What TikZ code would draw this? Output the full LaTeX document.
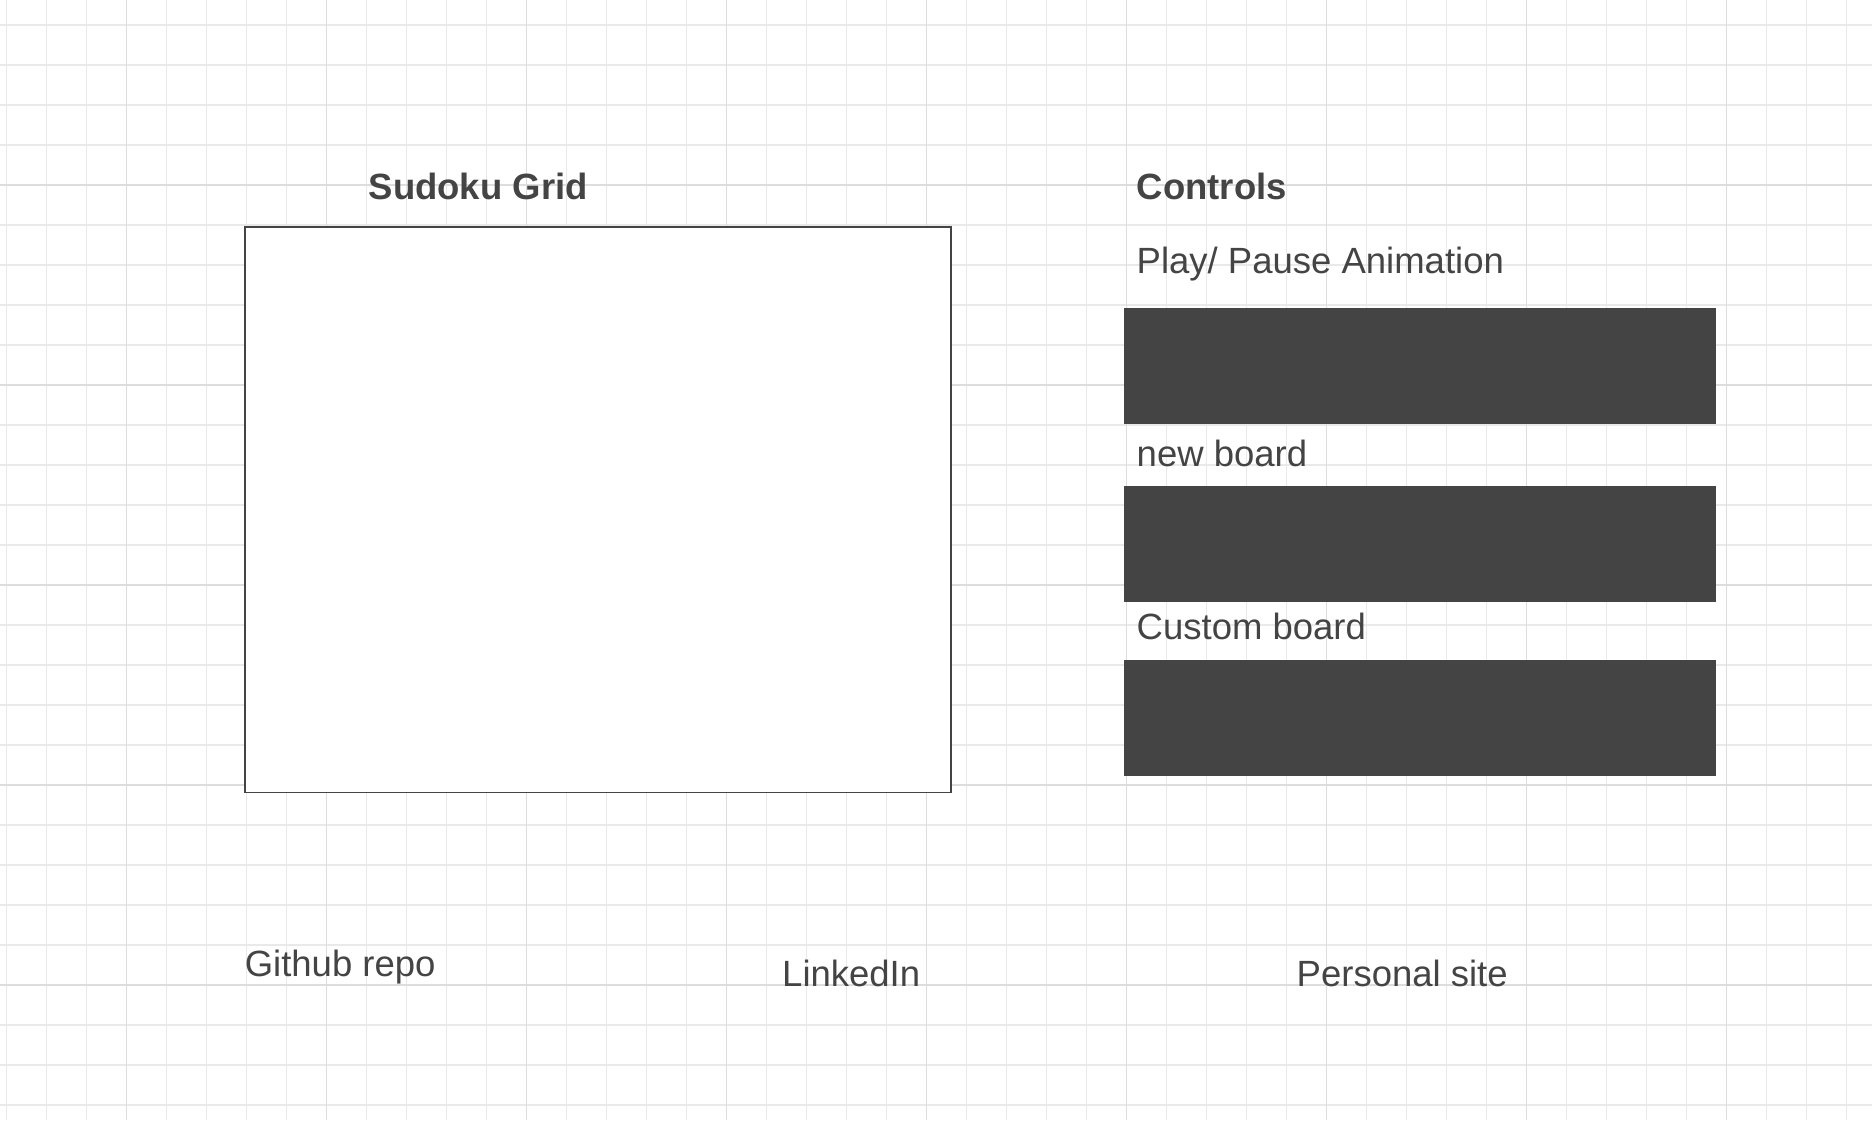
\documentclass[tikz,border=0pt]{standalone}
\usepackage{fontspec}
\setmainfont{Liberation Sans}
\definecolor{ink}{HTML}{444444}
\definecolor{gridminor}{HTML}{E9E9E9}
\definecolor{gridmajor}{HTML}{DDDDDD}
\tikzset{
  minorline/.style={draw=gridminor, line width=1.2pt},
  majorline/.style={draw=gridmajor, line width=1.4pt},
  gridbox/.style={draw=ink, fill=white, line width=1.7pt, minimum width=706pt, minimum height=565.8pt, inner sep=0pt, outer sep=0pt},
  darkbar/.style={fill=ink, draw=none, minimum width=592pt, minimum height=116pt, inner sep=0pt, outer sep=0pt},
  label/.style={anchor=base west, inner sep=0pt, text=ink, font=\fontsize{36.5}{44}\selectfont},
  title/.style={label, font=\fontsize{36.5}{44}\selectfont\bfseries}
}
\begin{document}
\begin{tikzpicture}[x=1pt,y=-1pt]
\useasboundingbox (0,0) rectangle (1872,1120);
\fill[white] (0,0) rectangle (1872,1120);
% grid
\foreach \i in {0,...,46} \draw[minorline] ({6.7+40*\i},0) -- ({6.7+40*\i},1120);
\foreach \j in {0,...,27} \draw[minorline] (0,{25+40*\j}) -- (1872,{25+40*\j});
\foreach \i in {0,...,8} \draw[majorline] ({126.7+200*\i},0) -- ({126.7+200*\i},1120);
\foreach \j in {0,...,4} \draw[majorline] (0,{185+200*\j}) -- (1872,{185+200*\j});
% sudoku grid box
\node[gridbox] (sudoku) at (597.8,509.6) {};
\node[title] (sudokutitle) at (368.5,199) {Sudoku Grid};
% controls
\node[title] (controls) at (1136.5,199) {Controls};
\node[label] (playlbl) at (1136.5,273) {Play/ Pause Animation};
\node[darkbar] (playbtn) at (1420,366) {};
\node[label] (newlbl) at (1136.5,466.5) {new board};
\node[darkbar] (newbtn) at (1420,544) {};
\node[label] (customlbl) at (1136.5,639) {Custom board};
\node[darkbar] (custombtn) at (1420,718) {};
% links
\node[label] (github) at (244.6,976) {Github repo};
\node[label] (linkedin) at (782,986) {LinkedIn};
\node[label] (personal) at (1296.5,986) {Personal site};
\end{tikzpicture}
\end{document}
